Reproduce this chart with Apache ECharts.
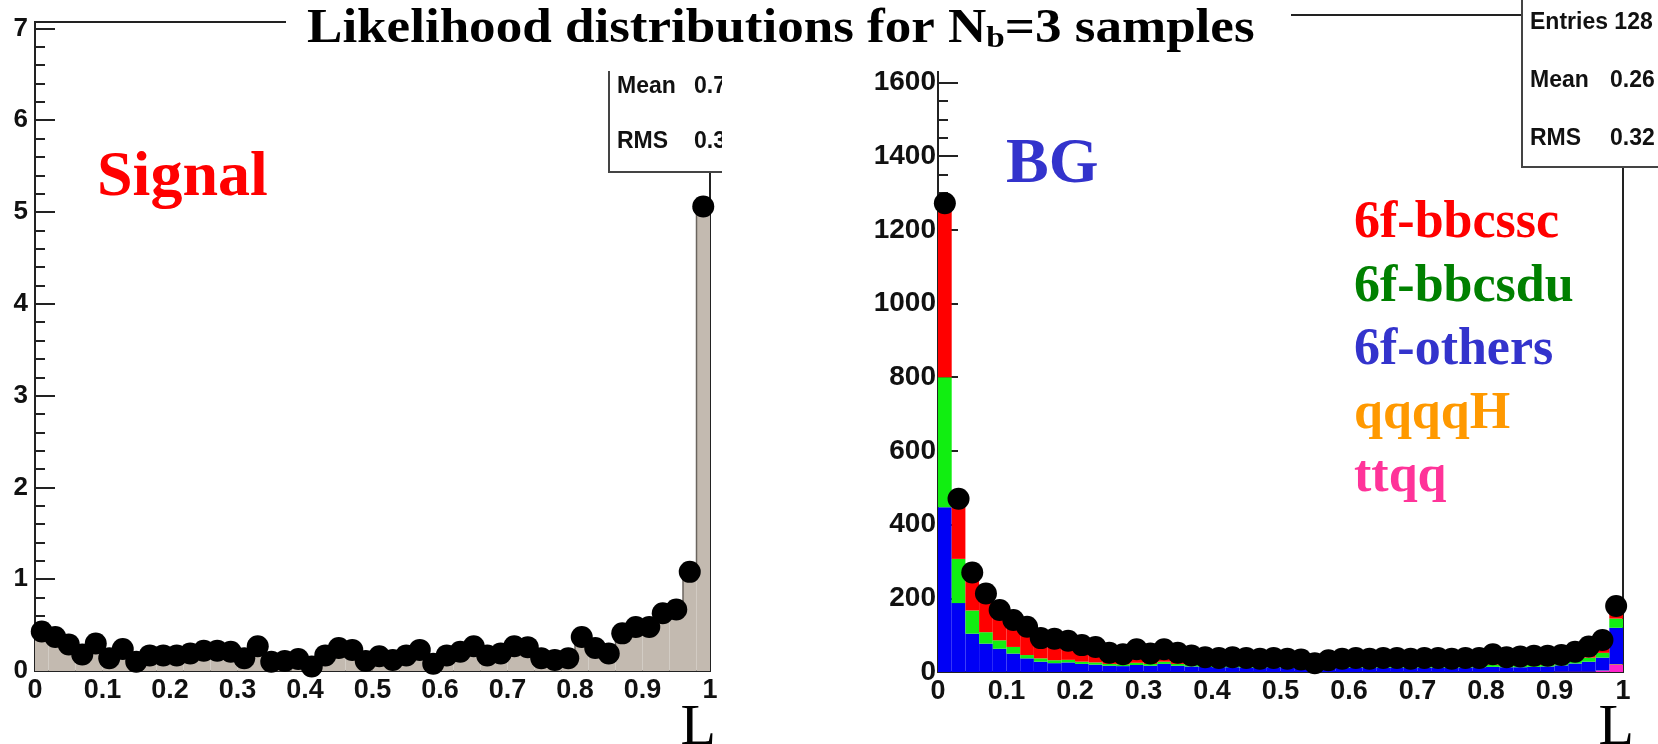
<!DOCTYPE html>
<html>
<head>
<meta charset="utf-8">
<script src="https://cdn.jsdelivr.net/npm/echarts@6/dist/echarts.min.js"></script>
<style>html,body{margin:0;padding:0;background:#fff}#c{width:1658px;height:744px}</style>
</head>
<body>
<div id="c"></div>
<script>
// ---- data ----
const binCenters = ['0.01','0.03','0.05','0.07','0.09','0.11','0.13','0.15','0.17','0.19',
  '0.21','0.23','0.25','0.27','0.29','0.31','0.33','0.35','0.37','0.39',
  '0.41','0.43','0.45','0.47','0.49','0.51','0.53','0.55','0.57','0.59',
  '0.61','0.63','0.65','0.67','0.69','0.71','0.73','0.75','0.77','0.79',
  '0.81','0.83','0.85','0.87','0.89','0.91','0.93','0.95','0.97','0.99'];

const signalVals = [0.43,0.37,0.29,0.18,0.30,0.14,0.24,0.10,0.17,0.17,
  0.17,0.19,0.22,0.22,0.21,0.14,0.27,0.10,0.11,0.13,
  0.05,0.17,0.25,0.23,0.11,0.16,0.12,0.17,0.23,0.08,
  0.17,0.21,0.27,0.17,0.19,0.27,0.26,0.14,0.12,0.14,
  0.37,0.25,0.19,0.41,0.48,0.48,0.63,0.67,1.08,5.06];

const bgTotal = [1272,470,270,213,168,141,123,92,90,85,
  73,68,52,48,62,50,62,52,45,40,
  38,40,38,36,38,36,34,24,32,36,
  38,36,38,38,36,38,38,36,38,38,
  48,40,42,44,44,46,55,69,87,179];

const ttqq = [0,0,0,0,0,0,0,0,0,0,
  0,0,0,0,0,0,0,0,0,0,
  0,0,0,0,0,0,0,0,0,0,
  0,0,0,0,0,0,0,0,0,0,
  0,0,0,0,0,1,1,1,3,19];

const qqqqH = [0,0,0,0,0,0,0,0,0,0,
  0,0,0,0,0,0,0,0,0,0,
  0,0,0,0,0,0,0,0,0,0,
  0,0,0,0,0,0,0,0,0,0,
  0,0,0,0,0,0,0,0,1,2];

const others = [447,187,104,77,63,50,37,28,24,26,
  22,20,17,16,19,17,22,17,15,14,
  13,13,12,12,13,12,11,8,11,12,
  12,12,12,12,12,12,12,12,12,13,
  14,13,13,14,15,17,22,27,35,99];

const bbcsdu = [353,120,63,31,23,18,9,9,8,7,
  6,6,5,5,6,5,6,5,5,5,
  5,5,5,5,5,5,5,4,5,5,
  5,5,5,5,5,5,5,5,5,5,
  6,5,5,5,5,6,8,11,13,25];

const bbcssc = [472,163,103,105,82,73,77,55,58,52,
  45,42,30,27,37,28,34,30,25,21,
  20,22,21,19,20,19,18,12,16,19,
  21,19,21,21,19,21,21,19,21,20,
  28,22,24,25,24,22,24,30,35,34];

const sigYMax = 7.07, sigYStep = 1, sigYMinor = 0.2;
const bgYMax = 1783, bgYStep = 200, bgYMinor = 50;
const xStep = 0.1;

const sigStats = [['Mean', '0.7'], ['RMS', '0.3']];
const bgStats = [['Entries', '128'], ['Mean', '0.26'], ['RMS', '0.32']];

// ---- chart ----
const chart = echarts.init(document.getElementById('c'), null, {renderer: 'canvas'});
const lblFont = {fontFamily: 'Liberation Sans', fontWeight: 'bold', color: '#111'};
const tickStyle = {color: '#222', width: 2};

function xValueAxis(g) {
  return {type: 'value', gridIndex: g, position: 'bottom', min: 0, max: 1, interval: xStep,
    axisLine: {show: false}, axisTick: {show: false}, splitLine: {show: false},
    axisLabel: Object.assign({fontSize: 27, margin: 6}, lblFont)};
}
function majorY(g, max, step, fs, margin) {
  return {type: 'value', gridIndex: g, position: 'left', min: 0, max: max, interval: step,
    axisLine: {show: false}, splitLine: {show: false},
    axisTick: {show: true, inside: true, length: 20, lineStyle: tickStyle},
    axisLabel: Object.assign({fontSize: fs, margin: margin,
      formatter: v => (Math.abs(v / step - Math.round(v / step)) < 1e-6 ? String(Math.round(v)) : '')}, lblFont)};
}
function minorY(g, max, step) {
  return {type: 'value', gridIndex: g, position: 'left', min: 0, max: max, interval: step,
    axisLine: {show: false}, splitLine: {show: false}, axisLabel: {show: false},
    axisTick: {show: true, inside: true, length: 10, lineStyle: tickStyle}};
}
function stackBar(name, data, color) {
  return {name: name, type: 'bar', xAxisIndex: 2, yAxisIndex: 2, stack: 'bg', data: data,
    barWidth: '100%', barCategoryGap: '0%',
    itemStyle: {color: color, borderWidth: 0}, z: 2};
}

const serif = 'Liberation Serif';
const statFont = 'bold 23px "Liberation Sans"';

const graphics = [];
// left stats box
graphics.push({type: 'rect', z: 100, shape: {x: 609, y: 40, width: 200, height: 132},
  style: {fill: '#fff', stroke: '#444', lineWidth: 2}});
sigStats.forEach((s, i) => {
  const yy = 87 + i * 55;
  graphics.push({type: 'text', z: 101, style: {x: 617, y: yy, text: s[0], font: statFont, fill: '#111', verticalAlign: 'middle'}});
  graphics.push({type: 'text', z: 101, style: {x: 694, y: yy, text: s[1], font: statFont, fill: '#111', verticalAlign: 'middle'}});
});
// crop cover between panels
graphics.push({type: 'rect', z: 102, shape: {x: 722, y: 30, width: 145, height: 170}, style: {fill: '#fff'}});
// right stats box
graphics.push({type: 'rect', z: 100, shape: {x: 1522, y: -20, width: 200, height: 187},
  style: {fill: '#fff', stroke: '#444', lineWidth: 2}});
bgStats.forEach((s, i) => {
  const yy = 23 + i * 58;
  if (i === 0) {
    graphics.push({type: 'text', z: 101, style: {x: 1530, y: yy, text: s[0] + ' ' + s[1], font: statFont, fill: '#111', verticalAlign: 'middle'}});
  } else {
    graphics.push({type: 'text', z: 101, style: {x: 1530, y: yy, text: s[0], font: statFont, fill: '#111', verticalAlign: 'middle'}});
    graphics.push({type: 'text', z: 101, style: {x: 1610, y: yy, text: s[1], font: statFont, fill: '#111', verticalAlign: 'middle'}});
  }
});
// title box + title
graphics.push({type: 'rect', z: 103, shape: {x: 286, y: 0, width: 1005, height: 71}, style: {fill: '#fff'}});
graphics.push({type: 'text', z: 104, x: 307, y: 6, scaleX: 1.105, style: {
  x: 0, y: 0, verticalAlign: 'top',
  text: 'Likelihood distributions for N{s|b}=3 samples',
  fontFamily: serif, fontWeight: 'bold', fontSize: 48, lineHeight: 48, fill: '#000',
  rich: {s: {fontFamily: serif, fontWeight: 'bold', fontSize: 30, lineHeight: 22, verticalAlign: 'bottom', fill: '#000'}}
}});
// panel labels
graphics.push({type: 'text', z: 50, style: {x: 97, y: 178, text: 'Signal', fontFamily: serif, fontWeight: 'bold', fontSize: 64, fill: '#ff0000', verticalAlign: 'middle'}});
graphics.push({type: 'text', z: 50, style: {x: 1006, y: 165, text: 'BG', fontFamily: serif, fontWeight: 'bold', fontSize: 64, fill: '#3333cc', verticalAlign: 'middle'}});
graphics.push({type: 'text', z: 50, style: {x: 716, y: 729, text: 'L', fontFamily: serif, fontSize: 58, fill: '#000', align: 'right', verticalAlign: 'middle'}});
graphics.push({type: 'text', z: 50, style: {x: 1634, y: 729, text: 'L', fontFamily: serif, fontSize: 58, fill: '#000', align: 'right', verticalAlign: 'middle'}});

const option = {
  animation: false,
  backgroundColor: '#fff',
  grid: [
    {left: 35, top: 22, width: 675, height: 649, show: true, borderColor: '#222', borderWidth: 2, backgroundColor: 'rgba(0,0,0,0)'},
    {left: 938, top: 15, width: 685, height: 657, show: true, borderColor: '#222', borderWidth: 2, backgroundColor: 'rgba(0,0,0,0)'}
  ],
  xAxis: [
    {type: 'category', gridIndex: 0, data: binCenters, boundaryGap: true, show: false},
    xValueAxis(0),
    {type: 'category', gridIndex: 1, data: binCenters, boundaryGap: true, show: false},
    xValueAxis(1)
  ],
  yAxis: [
    majorY(0, sigYMax, sigYStep, 26, 7),
    minorY(0, sigYMax, sigYMinor),
    majorY(1, bgYMax, bgYStep, 28, 2),
    minorY(1, bgYMax, bgYMinor)
  ],
  legend: {
    orient: 'vertical', left: 1349, top: 198, padding: 0, itemWidth: 0, itemHeight: 0, itemGap: 11.5,
    selectedMode: false, icon: 'rect',
    textStyle: {fontFamily: serif, fontWeight: 'bold', fontSize: 52, lineHeight: 52, padding: 0},
    data: [
      {name: '6f-bbcssc', textStyle: {color: '#ff0000'}},
      {name: '6f-bbcsdu', textStyle: {color: '#008000'}},
      {name: '6f-others', textStyle: {color: '#3333cc'}},
      {name: 'qqqqH', textStyle: {color: '#ff9900'}},
      {name: 'ttqq', textStyle: {color: '#ff3399'}}
    ]
  },
  series: [
    {name: 'Signal', type: 'bar', xAxisIndex: 0, yAxisIndex: 0, data: signalVals, barWidth: '100%', barCategoryGap: '0%',
      itemStyle: {color: '#c3bab0', borderWidth: 0}, z: 2},
    {name: 'Signal outline', type: 'line', xAxisIndex: 0, yAxisIndex: 0, data: signalVals, step: 'middle', symbol: 'none',
      lineStyle: {color: '#6b655f', width: 1.5}, z: 3},
    {name: 'Signal points', type: 'scatter', xAxisIndex: 0, yAxisIndex: 0, data: signalVals, symbolSize: 22,
      itemStyle: {color: '#000', opacity: 1}, clip: false, z: 5},
    stackBar('ttqq', ttqq, '#ff22cc'),
    stackBar('qqqqH', qqqqH, '#ff9900'),
    stackBar('6f-others', others, '#0000f5'),
    stackBar('6f-bbcsdu', bbcsdu, '#11ee11'),
    stackBar('6f-bbcssc', bbcssc, '#ff0000'),
    {name: 'BG points', type: 'scatter', xAxisIndex: 2, yAxisIndex: 2, data: bgTotal, symbolSize: 22,
      itemStyle: {color: '#000', opacity: 1}, clip: false, z: 5}
  ],
  graphic: {elements: graphics}
};
chart.setOption(option);
</script>
</body>
</html>
